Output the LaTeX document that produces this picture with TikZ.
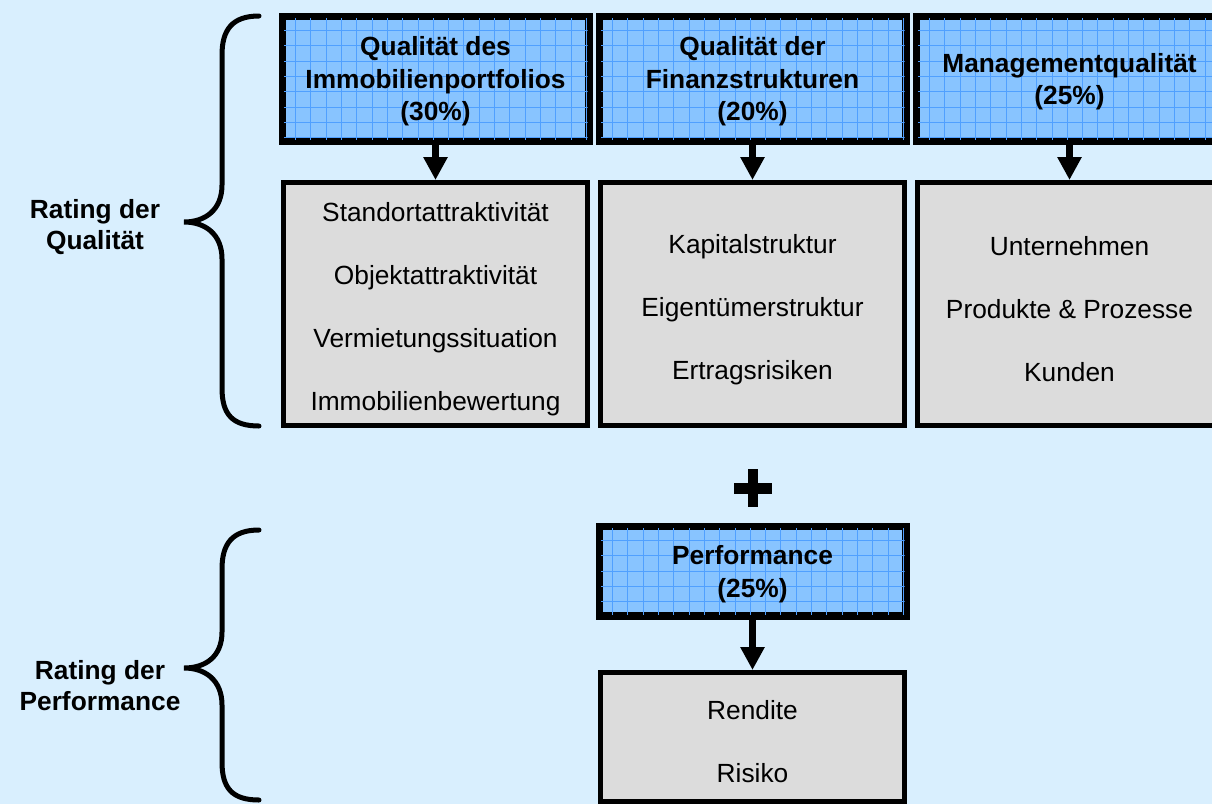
\documentclass[tikz,border=0pt]{standalone}
\usepackage{fontspec}
\setmainfont{Liberation Sans}
\usetikzlibrary{arrows.meta}
\definecolor{bgblue}{RGB}{217,239,254}
\definecolor{boxblue}{RGB}{136,196,255}
\definecolor{gridblue}{RGB}{80,160,255}
\definecolor{boxgrey}{RGB}{220,220,220}
\tikzset{
  headbox/.style={draw=black, line width=5pt, fill=boxblue, minimum width=304pt, inner sep=0pt},
  listbox/.style={draw=black, line width=5pt, fill=boxgrey, minimum width=304pt, inner sep=0pt},
  headtext/.style={align=center, inner sep=0pt, font=\fontsize{26.3}{32.5}\selectfont\bfseries},
  listtext/.style={align=center, inner sep=0pt, font=\fontsize{26.3}{63}\selectfont},
  sidelabel/.style={align=center, inner sep=0pt, font=\fontsize{26.3}{31}\selectfont\bfseries},
  gridline/.style={draw=gridblue, line width=0.7pt},
  downarrow/.style={line width=7pt, -{Triangle[width=23pt,length=23pt]}},
  bracket/.style={line width=5pt, line cap=round}
}
\newcommand\bluegrid[1]{%
  \begin{scope}
    \clip ([xshift=2.5pt,yshift=-2.5pt]#1.north west) rectangle ([xshift=-2.5pt,yshift=2.5pt]#1.south east);
    \foreach \k in {0,...,20}{
      \draw[gridline] ([xshift=(14.5+\k*15.3)*1pt]#1.north west) -- ([xshift=(14.5+\k*15.3)*1pt]#1.south west);
    }
    \foreach \k in {0,...,8}{
      \draw[gridline] ([yshift=-(15.5+\k*15.3)*1pt]#1.north west) -- ([yshift=-(15.5+\k*15.3)*1pt]#1.north east);
    }
  \end{scope}
  \draw[line width=5pt] (#1.north west) rectangle (#1.south east);
}
\begin{document}
\begin{tikzpicture}[x=1pt,y=-1pt]
\fill[bgblue] (0,0) rectangle (1212,804);
\useasboundingbox (0,0) rectangle (1212,804);

% header boxes
\node[headbox, minimum height=122pt] (h1) at (435.5,78.5) {};
\node[headbox, minimum height=122pt] (h2) at (752.5,78.5) {};
\node[headbox, minimum height=122pt] (h3) at (1069.5,78.5) {};
\node[headbox, minimum height=87pt] (h4) at (752.5,571) {};

\bluegrid{h1}
\bluegrid{h2}
\bluegrid{h3}
\bluegrid{h4}
\node[headtext] (t1) at (435.5,81.5) {Qualität des\\Immobilienportfolios\\(30\%)};
\node[headtext] (t2) at (752.5,81.5) {Qualität der\\Finanzstrukturen\\(20\%)};
\node[headtext] (t3) at (1069.5,81.5) {Managementqualität\\(25\%)};
\node[headtext] (t4) at (752.5,574) {Performance\\(25\%)};

% list boxes
\node[listbox, minimum height=243pt] (g1) at (435.5,304) {};
\node[listbox, minimum height=243pt] (g2) at (752.5,304) {};
\node[listbox, minimum height=243pt] (g3) at (1069.5,304) {};
\node[listbox, minimum height=129pt] (g4) at (752.5,737) {};
\node[listtext] (s1) at (435.5,309.5) {Standortattraktivität\\Objektattraktivität\\Vermietungssituation\\Immobilienbewertung};
\node[listtext] (s2) at (752.5,309.5) {Kapitalstruktur\\Eigentümerstruktur\\Ertragsrisiken};
\node[listtext] (s3) at (1069.5,309.5) {Unternehmen\\Produkte \& Prozesse\\Kunden};
\node[listtext] (s4) at (752.5,742) {Rendite\\Risiko};

% arrows
\draw[downarrow] (h1.south) -- (g1.north);
\draw[downarrow] (h2.south) -- (g2.north);
\draw[downarrow] (h3.south) -- (g3.north);
\draw[downarrow] (h4.south) -- (g4.north);

% plus sign
\draw[line width=11pt] (734,488) -- (772,488);
\draw[line width=10pt] (753,469) -- (753,507);

% braces
\draw[bracket] (259,16) .. controls (232,16) and (222,30) .. (222,55) -- (222,185)
  .. controls (222,210) and (205,222) .. (184,222)
  .. controls (205,222) and (222,234) .. (222,259) -- (222,388)
  .. controls (222,414) and (232,426) .. (259,426);
\draw[bracket] (259,530) .. controls (232,530) and (222,544) .. (222,569) -- (222,632)
  .. controls (222,657) and (205,668) .. (184,668)
  .. controls (205,668) and (222,680) .. (222,705) -- (222,762)
  .. controls (222,788) and (232,800) .. (259,800);

% side labels
\node[sidelabel] (l1) at (95,227) {Rating der\\Qualität};
\node[sidelabel] (l2) at (100,686) {Rating der\\Performance};
\end{tikzpicture}
\end{document}
